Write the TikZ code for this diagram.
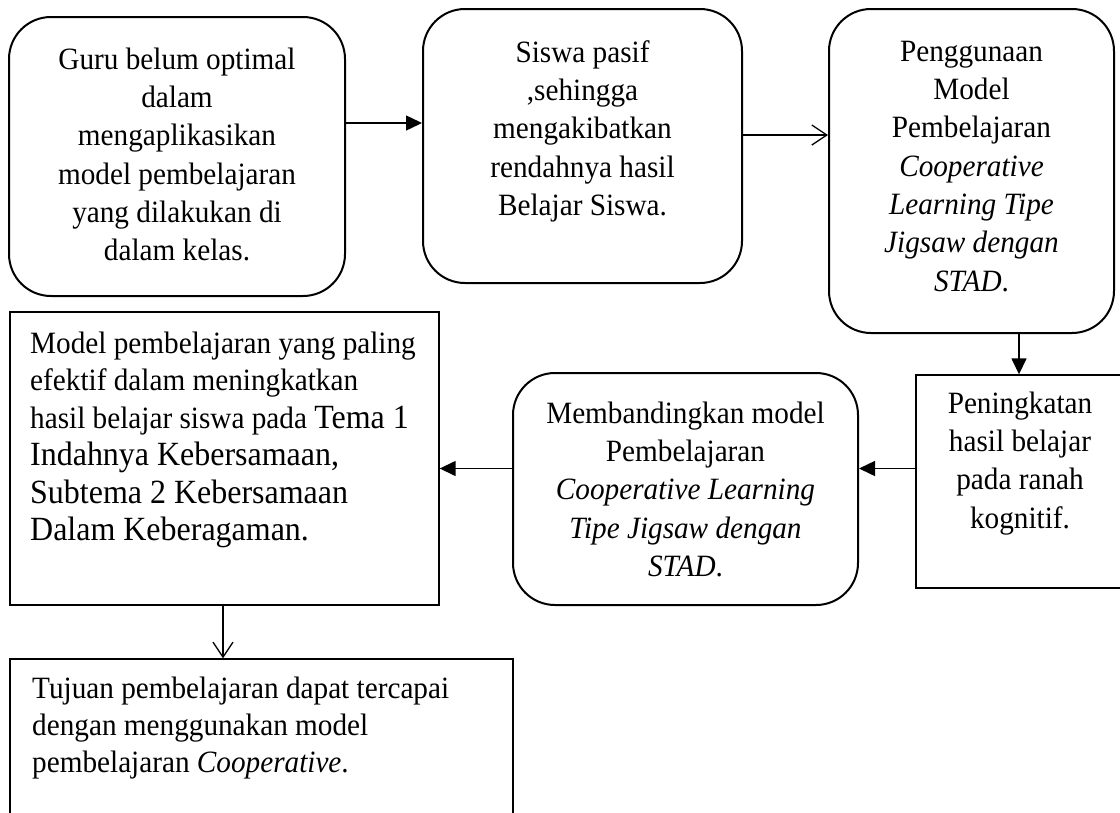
\documentclass[tikz,border=0pt]{standalone}
\usepackage{fontspec}
\setmainfont{Liberation Serif}[FakeStretch=0.943]
\usetikzlibrary{arrows.meta}
\tikzset{
  rbox/.style={draw, line width=2pt, rounded corners=42pt, rectangle, inner sep=0pt},
  sbox/.style={draw, line width=1.4pt, rectangle, inner sep=0pt},
  ctext/.style={align=center, inner sep=0pt, anchor=north, font={\fontsize{31}{38.3}\selectfont}},
  ltext/.style={align=left, inner sep=0pt, anchor=north west, font={\fontsize{31}{37.5}\selectfont}},
  farr/.style={line width=1.5pt, -{Triangle[length=16pt,width=15pt]}},
  oarr/.style={line width=1.3pt, -{Straight Barb[length=15pt,width=20pt,line width=1.3pt]}},
}
\newcommand{\bigtxt}[1]{{\fontsize{33.9}{37.5}\selectfont #1}}
\begin{document}
\begin{tikzpicture}[x=1pt,y=-1pt]
\useasboundingbox (0,0) rectangle (1120,812);
% boxes
\node[rbox, minimum width=336pt, minimum height=279pt] (b1) at (177,156.5) {};
\node[rbox, minimum width=319pt, minimum height=274pt] (b2) at (582.5,146) {};
\node[rbox, minimum width=285pt, minimum height=324pt] (b3) at (971.5,171) {};
\node[sbox, minimum width=429pt, minimum height=293pt] (b4) at (224.5,458.5) {};
\node[rbox, minimum width=345pt, minimum height=232pt] (b5) at (685.5,489) {};
\node[sbox, minimum width=208pt, minimum height=213pt] (b6) at (1020,481.5) {};
\node[sbox, minimum width=503pt, minimum height=201pt] (b7) at (261.5,759.5) {};
% texts
\node[ctext] (t1) at (177,42.2) {\strut Guru belum optimal\\ dalam\\ mengaplikasikan\\ model pembelajaran\\ yang dilakukan di\\ dalam kelas.};
\node[ctext] (t2) at (582.5,35.2) {\strut Siswa pasif\\ ,sehingga\\ mengakibatkan\\ rendahnya hasil\\ Belajar Siswa.};
\node[ctext] (t3) at (971.5,34.2) {\strut Penggunaan\\ Model\\ Pembelajaran\\ \textit{Cooperative}\\ \textit{Learning Tipe}\\ \textit{Jigsaw dengan}\\ \textit{STAD}.};
\node[ctext] (t5) at (685.5,396.2) {\strut Membandingkan model\\ Pembelajaran\\ \textit{Cooperative Learning}\\ \textit{Tipe Jigsaw dengan}\\ \textit{STAD}.};
\node[ctext] (t6) at (1020,386.2) {\strut Peningkatan\\ hasil belajar\\ pada ranah\\ kognitif.};
\node[ltext] (t4) at (30,326.75) {\strut Model pembelajaran yang paling\\ efektif dalam meningkatkan\\ hasil belajar siswa pada \bigtxt{Tema 1}\\ \bigtxt{Indahnya Kebersamaan,}\\ \bigtxt{Subtema 2 Kebersamaan}\\ \bigtxt{Dalam Keberagaman.}};
\node[ltext, font={\fontsize{31}{37}\selectfont}] (t7) at (32,672.1) {\strut Tujuan pembelajaran dapat tercapai\\ dengan menggunakan model\\ pembelajaran \textit{Cooperative}.};
% connectors
\coordinate (ya) at (0,123);
\coordinate (yb) at (0,135);
\coordinate (xc) at (1019,0);
\coordinate (yd) at (0,468.5);
\coordinate (xe) at (223,0);
\draw[farr] (b1.east |- ya) -- (b2.west |- ya);
\draw[oarr] (b2.east |- yb) -- (b3.west |- yb);
\draw[farr] (b3.south -| xc) -- (b6.north -| xc);
\draw[farr] (b6.west |- yd) -- (b5.east |- yd);
\draw[farr] (b5.west |- yd) -- (b4.east |- yd);
\draw[oarr] (b4.south -| xe) -- (b7.north -| xe);
\end{tikzpicture}
\end{document}
